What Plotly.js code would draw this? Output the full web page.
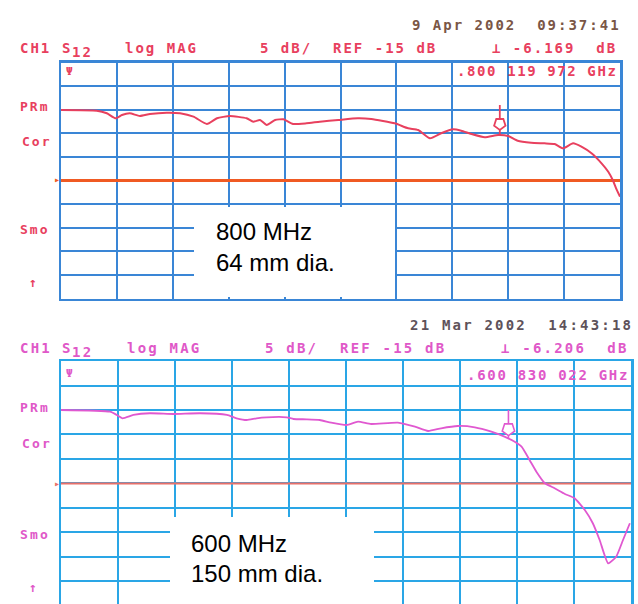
<!DOCTYPE html>
<html>
<head>
<meta charset="utf-8">
<script src="https://cdn.plot.ly/plotly-3.0.1.min.js"></script>
<style>
html,body{margin:0;padding:0;background:#fff;}
#chart{width:638px;height:604px;}
</style>
</head>
<body>
<div id="chart"></div>
<script>
// ---------- data (x in screen divisions 0..10, y in dB) ----------
const xTop = [0,0.64,0.82,0.98,1.09,1.23,1.41,1.59,1.89,2.13,2.37,2.61,2.79,3.02,3.32,3.44,3.56,3.68,3.83,3.98,4.15,4.39,4.63,4.96,5.31,5.55,5.97,6.21,6.39,6.60,6.80,7.01,7.16,7.34,7.58,7.82,8.00,8.17,8.41,8.65,8.83,8.98,9.16,9.31,9.49,9.67,9.79,9.87,9.93,10.0];
const dbTop = [-0.05,-0.2,-0.76,-1.82,-1.12,-0.76,-1.33,-0.91,-0.64,-0.76,-1.48,-3.03,-1.82,-1.33,-1.82,-2.54,-2.18,-3.24,-2.18,-2.03,-3.03,-2.88,-2.54,-2.18,-1.82,-1.97,-2.88,-3.94,-4.30,-6.06,-5.0,-4.15,-4.45,-5.15,-5.85,-5.36,-5.57,-6.57,-6.99,-7.12,-7.27,-8.18,-7.12,-7.84,-9.24,-11.36,-13.14,-14.89,-16.65,-18.43];

const xBot = [0,0.86,0.98,1.08,1.27,1.56,1.97,2.44,2.91,3.08,3.26,3.43,3.61,3.96,4.08,4.31,4.54,4.74,5.01,5.21,5.44,5.91,6.21,6.44,6.67,6.96,7.26,7.55,7.78,7.96,8.08,8.22,8.34,8.49,8.66,8.84,9.01,9.19,9.33,9.45,9.60,9.74,9.86,9.98];
const dbBot = [0.0,-0.35,-1.02,-1.69,-1.02,-0.67,-0.82,-0.67,-1.02,-1.69,-2.04,-1.69,-1.49,-1.49,-1.84,-1.90,-2.04,-2.59,-3.06,-2.39,-2.86,-2.59,-3.41,-4.29,-3.73,-3.27,-3.53,-4.43,-5.45,-6.47,-7.49,-10.2,-12.59,-14.96,-15.98,-17.14,-18.02,-20.41,-23.12,-26.53,-31.29,-29.94,-26.53,-23.12];

const refLevel = [-15, -15];           // REF -15 dB (top, bottom)
const scaleDb = [5, 5];                // 5 dB / div
const markerX = [7.85, 7.85];          // marker position (div)
const markerStemTop = [1.0, 0.0];      // marker glyph (dB)
const markerHead = [-3.0, -3.9];
const markerTip = [-5.57, -5.7];

const markerReadout = ['-6.169', '-6.206'];
const markerFreq = ['.800 119 972 GHz', '.600 830 022 GHz'];
const stamps = ['9 Apr 2002  09:37:41', '21 Mar 2002  14:43:18'];
const sideLabels = ['PRm', 'Cor', 'Smo', '\u2191'];
const boxLines = [['800 MHz', '64 mm dia.'], ['600 MHz', '150 mm dia.']];

// ---------- styling ----------
const W = 638, H = 604;
const px = v => v / W;
const py = v => 1 - v / H;
const topText = '#e8405e', botText = '#e058c8';
const topDate = '#7a5646', botDate = '#5e525a';
const topGrid = '#3a86d6', botGrid = '#2aa6e6';
const mono = 'DejaVu Sans Mono';

function ls(s, sp) { return '<span style="letter-spacing:' + sp + 'px">' + s + '</span>'; }
function ann(text, x, y, color, size, sp, extra) {
  return Object.assign({
    text: ls(text, sp), xref: 'paper', yref: 'paper', x: px(x), y: py(y),
    xanchor: 'left', yanchor: 'middle', showarrow: false,
    font: {family: mono, size: size, color: color, weight: 'bold'}
  }, extra || {});
}

const annotations = [];
function header(i, off, col, dcol, sp, fsp, pos) {
  annotations.push(ann('CH1', 18, 48 + off, col, 14, sp));
  annotations.push(ann('S', 60, 48 + off, col, 14, sp));
  annotations.push(ann('12', 70, 52 + off, col, 14, sp));
  annotations.push(ann('log MAG', pos[0], 48 + off, col, 14, sp));
  annotations.push(ann(scaleDb[i] + ' dB/', pos[1], 48 + off, col, 14, sp));
  annotations.push(ann('REF ' + refLevel[i] + ' dB', pos[2], 48 + off, col, 14, sp));
  annotations.push(ann('\u22A5 ' + markerReadout[i] + '  dB', pos[3], 48 + off, col, 14, sp));
  annotations.push(ann(stamps[i], pos[4], 25 + off, dcol, 14, sp));
  annotations.push(ann(markerFreq[i], pos[5], 71 + off + (i ? 4 : 0), col, 14, fsp));
  annotations.push(ann('\u03A8', 64, 72 + off + (i ? 1 : 0), col, 11, 0));
  const ly = i ? [407, 443, 534, 587] : [107, 141, 229, 282];
  const lx = [18, 20, 18, 27];
  sideLabels.forEach((t, k) => annotations.push(ann(t, lx[k], ly[k], col, 13, sp)));
  annotations.push(ann('\u25B8', 52, i ? 483 : 179, i ? '#e8706a' : '#f05a23', 10, 0));
}
header(0, 0, topText, topDate, 2, 1.6, [123, 258, 331, 490, 410, 455]);
header(1, 300, botText, botDate, 2.2, 1.7, [125, 263, 338, 499, 408, 465]);

// white label boxes
const shapes = [
  {type: 'rect', xref: 'paper', yref: 'paper', x0: px(194), x1: px(395), y0: py(297), y1: py(207),
   fillcolor: '#ffffff', line: {width: 0}, layer: 'above'},
  {type: 'rect', xref: 'paper', yref: 'paper', x0: px(170), x1: px(374), y0: py(604), y1: py(517),
   fillcolor: '#ffffff', line: {width: 0}, layer: 'above'}
];
const boxFont = {family: 'Liberation Sans, Arial, sans-serif', size: 24, color: '#000000'};
[[214, 231, 262], [189, 543, 573]].forEach((p, i) => {
  boxLines[i].forEach((t, k) => annotations.push({
    text: t, xref: 'paper', yref: 'paper', x: px(p[0]), y: py(p[1 + k]),
    xanchor: 'left', yanchor: 'middle', showarrow: false, font: boxFont
  }));
});

// ---------- traces ----------
const traces = [
  {x: [0, 10], y: [refLevel[0], refLevel[0]], xaxis: 'x', yaxis: 'y', mode: 'lines',
   line: {color: '#f05a23', width: 3}, hoverinfo: 'skip'},
  {x: xTop, y: dbTop, xaxis: 'x', yaxis: 'y', mode: 'lines',
   line: {color: '#e8405e', width: 2, shape: 'spline', smoothing: 0.5}},
  {x: [markerX[0], markerX[0]], y: [markerStemTop[0], markerTip[0]], xaxis: 'x', yaxis: 'y', mode: 'lines',
   line: {color: '#e8405e', width: 1.8}},
  {x: [markerX[0]], y: [markerHead[0]], xaxis: 'x', yaxis: 'y', mode: 'markers',
   marker: {symbol: 'pentagon', angle: 180, size: 12, color: '#ffffff', line: {color: '#e8405e', width: 1.8}}},

  {x: [0, 10], y: [refLevel[1], refLevel[1]], xaxis: 'x2', yaxis: 'y2', mode: 'lines',
   line: {color: '#e8706a', width: 2}, hoverinfo: 'skip'},
  {x: xBot, y: dbBot, xaxis: 'x2', yaxis: 'y2', mode: 'lines',
   line: {color: '#e058d0', width: 1.8, shape: 'spline', smoothing: 0.5}},
  {x: [markerX[1], markerX[1]], y: [markerStemTop[1], markerTip[1]], xaxis: 'x2', yaxis: 'y2', mode: 'lines',
   line: {color: '#e058d0', width: 1.6}},
  {x: [markerX[1]], y: [markerHead[1]], xaxis: 'x2', yaxis: 'y2', mode: 'markers',
   marker: {symbol: 'pentagon', angle: 180, size: 13, color: '#ffffff', line: {color: '#e058d0', width: 1.6}}}
];

function xa(dom, col) {
  return {domain: dom, range: [0, 10], dtick: 1, tick0: 0, showgrid: true, gridcolor: col, gridwidth: 2,
    showline: true, mirror: true, linecolor: col, linewidth: 2.5, zeroline: false,
    showticklabels: false, ticks: '', fixedrange: true};
}
function ya(dom, rng, col) {
  return {domain: dom, range: rng, dtick: 5, tick0: 0, showgrid: true, gridcolor: col, gridwidth: 2,
    showline: true, mirror: true, linecolor: col, linewidth: 2.5, zeroline: false,
    showticklabels: false, ticks: '', fixedrange: true};
}

const layout = {
  width: W, height: H, margin: {l: 0, r: 0, t: 0, b: 0},
  paper_bgcolor: '#ffffff', plot_bgcolor: '#ffffff', showlegend: false,
  xaxis: Object.assign(xa([px(61), px(620)], topGrid), {anchor: 'y'}),
  yaxis: Object.assign(ya([py(298.5), py(62.5)], [-40, 10], topGrid), {anchor: 'x'}),
  xaxis2: Object.assign(xa([px(61), px(631)], botGrid), {anchor: 'y2'}),
  yaxis2: Object.assign(ya([0, py(361)], [-39.6, 10], botGrid), {anchor: 'x2'}),
  annotations: annotations, shapes: shapes
};

Plotly.newPlot('chart', traces, layout, {staticPlot: true});
</script>
</body>
</html>
